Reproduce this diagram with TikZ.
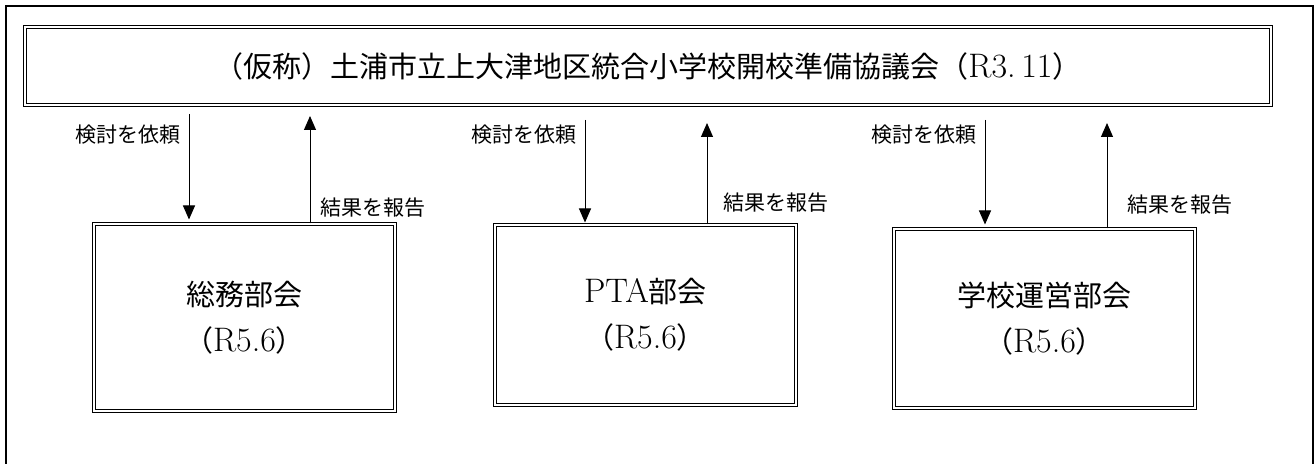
\documentclass[tikz,border=0pt]{standalone}
\usepackage{fontspec}
\newfontfamily\cjk{Noto Sans CJK JP}
\newcommand\latn[1]{{\rmfamily\fontsize{17pt}{23pt}\selectfont #1}}
\usetikzlibrary{arrows.meta}
\usetikzlibrary{positioning}

\begin{document}
\begin{tikzpicture}[x=0.5pt,y=-0.5pt,
        dbl/.style={draw, double, line width=0.5pt, double distance=1pt, inner sep=0pt},
        bukai/.style={dbl, minimum width=150.5pt, minimum height=90pt, align=center,
            font=\cjk\fontsize{14.5pt}{23pt}\selectfont},
        lbl/.style={font=\cjk\fontsize{10.5pt}{12pt}\selectfont, inner sep=0pt},
        fl/.style={line width=0.5pt, -{Triangle[width=6pt,length=7pt]}}]
    \useasboundingbox (0,0) rectangle (1316,464);
    \draw[line width=1.25pt] (6,470) -- (6,6) -- (1313,6) -- (1313,470);
    % Kyogikai
    \node[dbl, minimum width=623pt, minimum height=39pt, font=\cjk\fontsize{14.5pt}{17pt}\selectfont] (kyogi) at (648,66)
        {（仮称）土浦市立上大津地区統合小学校開校準備協議会（\latn{R3.\,11}）};
    % bukai
    \node[bukai, minimum height=93.5pt] (somu) at (244.5,317.5) {総務部会\\（\latn{R5.6}）};
    \node[bukai] (pta) at (645.5,315) {\latn{PTA}部会\\（\latn{R5.6}）};
    \node[bukai, minimum height=89.5pt] (unei) at (1044.5,318.5) {学校運営部会\\（\latn{R5.6}）};
    % arrows
    \coordinate (dn1) at (189,114);
    \coordinate (up1) at (310,116);
    \coordinate (dn2) at (585,120);
    \coordinate (up2) at (707,123);
    \coordinate (dn3) at (985,120);
    \coordinate (up3) at (1107,123);
    \draw[fl, shorten >=2pt] (dn1) -- (dn1 |- somu.north);
    \draw[fl] (up1 |- somu.north) -- (up1);
    \draw[fl, shorten >=1pt] (dn2) -- (dn2 |- pta.north);
    \draw[fl] (up2 |- pta.north) -- (up2);
    \draw[fl, shorten >=2pt] (dn3) -- (dn3 |- unei.north);
    \draw[fl] (up3 |- unei.north) -- (up3);
    % labels
    \node[lbl, anchor=east] (irai1) at (181,135) {検討を依頼};
    \node[lbl, anchor=west] (hokoku1) at (320,208) {結果を報告};
    \node[lbl, anchor=east] (irai2) at (577,135) {検討を依頼};
    \node[lbl, anchor=west] (hokoku2) at (723,203) {結果を報告};
    \node[lbl, anchor=east] (irai3) at (977,135) {検討を依頼};
    \node[lbl, anchor=west] (hokoku3) at (1127,205) {結果を報告};
\end{tikzpicture}
\end{document}
